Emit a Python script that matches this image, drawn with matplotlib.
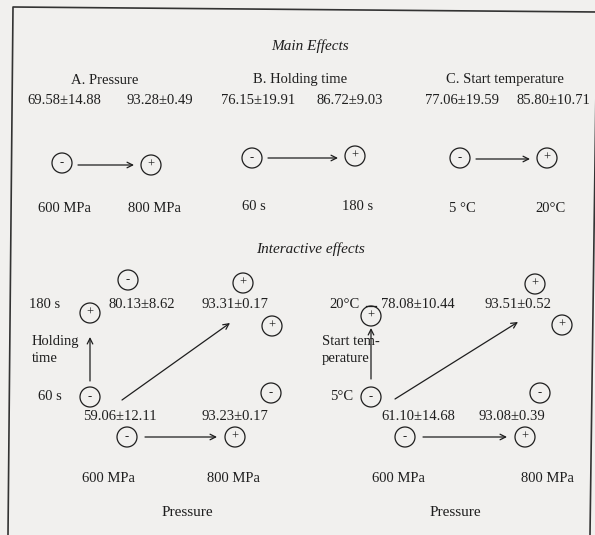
import matplotlib.pyplot as plt
from matplotlib.patches import Circle

# main effects: factor name, low/high level, low/high response
main_names = ["A. Pressure", "B. Holding time", "C. Start temperature"]
main_low_levels = ["600 MPa", "60 s", "5 °C"]
main_high_levels = ["800 MPa", "180 s", "20°C"]
main_low_values = ["69.58±14.88", "76.15±19.91", "77.06±19.59"]
main_high_values = ["93.28±0.49", "86.72±9.03", "85.80±10.71"]

# interactive effects: pressure x holding time, pressure x start temperature
inter_second = ["Holding\ntime", "Start tem-\nperature"]
inter_second_low = ["60 s", "5°C"]
inter_second_high = ["180 s", "20°C"]
inter_pressure_levels = ["600 MPa", "800 MPa"]
# order: (low P, low 2nd), (high P, low 2nd), (low P, high 2nd), (high P, high 2nd)
inter_values = [["59.06±12.11", "93.23±0.17", "80.13±8.62", "93.31±0.17"],
                ["61.10±14.68", "93.08±0.39", "78.08±10.44", "93.51±0.52"]]

plt.rcParams['font.family'] = ['Liberation Serif', 'DejaVu Serif']
ink = '#1e1e1e'
fs = 10.5

fig = plt.figure(figsize=(5.95, 5.35), dpi=100)
fig.patch.set_facecolor('#f1f0ee')
ax = fig.add_axes([0, 0, 1, 1])
ax.set_xlim(0, 595)
ax.set_ylim(535, 0)
ax.axis('off')


def sign(x, y, s):
    ax.add_patch(Circle((x, y), 10, fill=False, ec=ink, lw=0.9))
    ax.text(x, y, s, ha='center', va='center', fontsize=9, color=ink)


def arrow(x0, y0, x1, y1):
    ax.annotate('', xy=(x1, y1), xytext=(x0, y0),
                arrowprops=dict(arrowstyle='->', lw=0.9, color=ink, shrinkA=0, shrinkB=0))


def txt(x, y, s, size=fs, **kw):
    kw.setdefault('ha', 'center')
    ax.text(x, y, s, va='center', fontsize=size, color=ink, **kw)


# frame (scanned page is slightly tilted)
ax.plot([8, 13, 597, 590], [535, 7, 12, 535], color='#333333', lw=1.2)

txt(310, 46, "Main Effects", style='italic', size=11)
txt(310, 249, "Interactive effects", style='italic', size=11)

# main effects
centers = [105, 300, 505]
lows = [(62, 163), (252, 158), (460, 158)]
highs = [(151, 165), (355, 156), (547, 158)]
low_txt = [64, 258, 462]
high_txt = [160, 350, 553]
lvl_y = [208, 206, 208]
for i in range(3):
    txt(centers[i], 80, main_names[i])
    txt(low_txt[i], 100, main_low_values[i])
    txt(high_txt[i], 100, main_high_values[i])
    lx, ly = lows[i]
    hx, hy = highs[i]
    sign(lx, ly, '-')
    sign(hx, hy, '+')
    my = (ly + hy) / 2 + 1
    arrow(lx + 16, my, hx - 17, my)
    txt(lx + 2, lvl_y[i], main_low_levels[i])
    txt(hx + 3, lvl_y[i] + 1, main_high_levels[i])

# interactive effects panels: layout per panel
panels = [
    dict(top_minus=(128, 280), top_plus=(243, 283), hi_lbl=45, v_x=90, v_plus_y=313,
         v_arrow=(381, 337), hv0=142, hv1=235, right_plus=(272, 326), name_x=32, lo_lbl=50,
         diag=(122, 400, 230, 323), right_minus=(271, 393), lv0=120, lv1=235,
         p0=127, p1=235, pl0=108, pl1=233, pt=187),
    dict(top_minus=None, top_plus=(535, 284), hi_lbl=345, v_x=371, v_plus_y=316,
         v_arrow=(379, 328), hv0=418, hv1=518, right_plus=(562, 325), name_x=322, lo_lbl=342,
         diag=(395, 399, 518, 322), right_minus=(540, 393), lv0=418, lv1=512,
         p0=405, p1=525, pl0=398, pl1=547, pt=455),
]
for k, p in enumerate(panels):
    vals = inter_values[k]
    if p['top_minus'] is not None:
        sign(*p['top_minus'], '-')
    else:
        ax.plot([p['v_x'] - 5, p['v_x'] + 5], [p['v_plus_y'] - 10.5] * 2, color=ink, lw=0.9)
    sign(*p['top_plus'], '+')
    txt(p['hi_lbl'], 305, inter_second_high[k])
    sign(p['v_x'], p['v_plus_y'], '+')
    txt(p['hv0'], 305, vals[2])
    txt(p['hv1'], 305, vals[3])
    sign(*p['right_plus'], '+')
    ax.text(p['name_x'], 350, inter_second[k], ha='left', va='center',
            fontsize=fs, color=ink, linespacing=1.45)
    arrow(p['v_x'], p['v_arrow'][0], p['v_x'], p['v_arrow'][1])
    txt(p['lo_lbl'], 397, inter_second_low[k])
    sign(p['v_x'], 397, '-')
    arrow(*p['diag'])
    sign(*p['right_minus'], '-')
    txt(p['lv0'], 417, vals[0])
    txt(p['lv1'], 417, vals[1])
    sign(p['p0'], 437, '-')
    sign(p['p1'], 437, '+')
    arrow(p['p0'] + 18, 437, p['p1'] - 18, 437)
    txt(p['pl0'], 479, inter_pressure_levels[0])
    txt(p['pl1'], 479, inter_pressure_levels[1])
    txt(p['pt'], 512, "Pressure", size=11)

fig.savefig('out.png', dpi=100, facecolor=fig.get_facecolor())
